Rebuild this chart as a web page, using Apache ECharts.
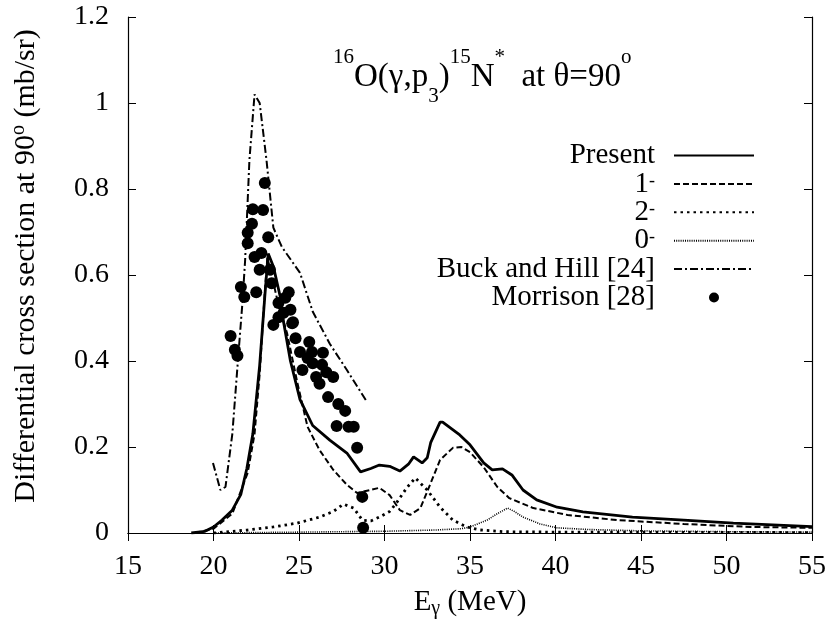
<!DOCTYPE html>
<html>
<head>
<meta charset="utf-8">
<script src="https://cdn.jsdelivr.net/npm/echarts@6/dist/echarts.min.js"></script>
<style>
  html, body { margin: 0; padding: 0; background: #fff; }
  #main { width: 825px; height: 629px; }
</style>
</head>
<body>
<div id="main"></div>
<script>
// Present (total)
var presentX = [18.7, 19.5, 20.0, 20.5, 21.1, 21.6, 21.95, 22.3, 22.7, 23.0, 23.2, 23.5, 23.9, 24.1, 24.5, 25.06, 25.8, 26.8, 27.8, 28.6, 29.2, 29.7, 30.3, 30.9, 31.4, 31.7, 32.2, 32.5, 32.7, 33.25, 33.4, 34.4, 35.0, 35.8, 36.3, 36.9, 37.45, 38.1, 38.9, 40.1, 41.6, 44.5, 47.5, 50.4, 55];
var presentY = [0, 0.004, 0.014, 0.03, 0.053, 0.09, 0.15, 0.23, 0.39, 0.55, 0.65, 0.62, 0.55, 0.49, 0.40, 0.31, 0.25, 0.216, 0.186, 0.142, 0.15, 0.158, 0.155, 0.144, 0.16, 0.177, 0.163, 0.175, 0.21, 0.258, 0.258, 0.228, 0.205, 0.163, 0.147, 0.149, 0.135, 0.1, 0.077, 0.06, 0.049, 0.037, 0.03, 0.023, 0.015];

// 1- component
var oneX = [18.9, 20.0, 21.1, 22.0, 22.4, 22.7, 23.0, 23.15, 23.4, 23.8, 24.3, 24.9, 25.5, 26.2, 27.0, 27.8, 28.4, 29.15, 29.7, 30.3, 30.9, 31.5, 32.1, 32.7, 33.25, 34.0, 34.5, 35.0, 35.8, 36.6, 37.3, 38.7, 40.7, 43.6, 47.5, 51.4, 55];
var oneY = [0, 0.01, 0.045, 0.14, 0.23, 0.37, 0.56, 0.64, 0.6, 0.53, 0.465, 0.35, 0.247, 0.193, 0.147, 0.112, 0.093, 0.1, 0.105, 0.088, 0.053, 0.042, 0.058, 0.116, 0.17, 0.198, 0.2, 0.188, 0.153, 0.107, 0.081, 0.058, 0.042, 0.03, 0.021, 0.014, 0.012];

// 2- component
var twoX = [20.0, 22.0, 23.5, 24.9, 26.2, 27.0, 27.6, 28.2, 28.7, 29.2, 29.7, 30.3, 30.7, 31.3, 31.8, 32.5, 33.25, 34.0, 34.8, 35.6, 37.0, 40.0, 55];
var twoY = [0, 0.007, 0.014, 0.023, 0.037, 0.05, 0.067, 0.058, 0.03, 0.028, 0.037, 0.05, 0.07, 0.105, 0.128, 0.1, 0.06, 0.03, 0.014, 0.007, 0.003, 0.002, 0.001];

// 0- component
var zeroX = [20.0, 25.0, 30.0, 33.0, 34.5, 35.0, 36.0, 36.6, 37.2, 37.6, 38.1, 39.1, 40.1, 42.0, 45.0, 50.0, 55];
var zeroY = [0, 0.002, 0.004, 0.007, 0.01, 0.014, 0.03, 0.045, 0.058, 0.05, 0.037, 0.021, 0.012, 0.008, 0.005, 0.003, 0.002];

// Buck and Hill [24]
var buckX = [19.97, 20.4, 20.7, 21.1, 21.4, 21.7, 21.85, 22.1, 22.4, 22.7, 23.1, 23.5, 24.0, 25.06, 25.8, 26.8, 27.8, 28.97];
var buckY = [0.163, 0.1, 0.107, 0.23, 0.386, 0.54, 0.635, 0.867, 1.02, 1.0, 0.867, 0.71, 0.665, 0.605, 0.515, 0.44, 0.379, 0.305];

// Morrison [28]
var morrisonX = [23.0, 22.3, 22.9, 22.25, 22.0, 22.0, 23.2, 22.4, 22.8, 22.7, 23.3, 23.4, 21.6, 21.8, 22.5, 24.4, 24.2, 23.8, 24.5, 23.8, 24.6, 23.5, 21.0, 21.25, 21.4, 24.8, 24.1, 24.65, 25.6, 25.06, 25.76, 26.4, 25.5, 25.8, 26.35, 25.2, 26.6, 27.0, 26.0, 26.2, 26.7, 27.3, 27.7, 27.2, 27.9, 28.2, 28.4, 28.7, 28.75];
var morrisonY = [0.814, 0.753, 0.751, 0.719, 0.698, 0.674, 0.688, 0.642, 0.651, 0.612, 0.612, 0.581, 0.572, 0.549, 0.56, 0.56, 0.547, 0.535, 0.519, 0.502, 0.488, 0.484, 0.458, 0.426, 0.412, 0.453, 0.512, 0.49, 0.444, 0.421, 0.421, 0.419, 0.407, 0.395, 0.391, 0.379, 0.374, 0.363, 0.363, 0.347, 0.316, 0.30, 0.284, 0.249, 0.247, 0.247, 0.198, 0.084, 0.012];

var xTicks = [15, 20, 25, 30, 35, 40, 45, 50, 55];
var yTicks = [0, 0.2, 0.4, 0.6, 0.8, 1, 1.2];

function pairs(xs, ys) {
  return xs.map(function (x, i) { return [x, ys[i]]; });
}

var serif = 'Liberation Serif';
var chart = echarts.init(document.getElementById('main'));

function lineSeries(name, xs, ys, type, width) {
  return {
    name: name,
    type: 'line',
    data: pairs(xs, ys),
    showSymbol: false,
    symbol: 'none',
    smooth: false,
    lineStyle: { color: '#000', width: width, type: type },
    itemStyle: { color: '#000' },
    z: 3
  };
}

// hide the circle that line series put in the middle of their legend icon
var noDot = { color: 'rgba(0,0,0,0)', borderWidth: 0, opacity: 0 };

var option = {
  animation: false,
  backgroundColor: '#fff',
  textStyle: { fontFamily: serif, color: '#000' },
  title: {
    text: '{sup|16}{b|O(γ,p}{sub|3}{b|)}{sup|15}{b|N}{sup|*}{b|  at θ=90}{sup|o}',
    left: 333,
    top: 47,
    padding: 0,
    textStyle: {
      fontWeight: 'normal',
      rich: {
        b: { fontFamily: serif, fontSize: 33, fontWeight: 'normal', color: '#000', lineHeight: 60 },
        sup: { fontFamily: serif, fontSize: 21, fontWeight: 'normal', color: '#000', verticalAlign: 'top', lineHeight: 21 },
        sub: { fontFamily: serif, fontSize: 21, fontWeight: 'normal', color: '#000', verticalAlign: 'bottom', lineHeight: 26 }
      }
    }
  },
  legend: {
    orient: 'vertical',
    right: 70,
    top: 141,
    align: 'right',
    itemWidth: 80,
    itemHeight: 10,
    itemGap: -0.6,
    padding: 0,
    symbolKeepAspect: true,
    data: [
      { name: 'Present', itemStyle: noDot },
      { name: '1-', itemStyle: noDot },
      { name: '2-', itemStyle: noDot },
      { name: '0-', itemStyle: noDot },
      { name: 'Buck and Hill [24]', itemStyle: noDot },
      { name: 'Morrison [28]' }
    ],
    formatter: function (name) {
      if (/^\d-$/.test(name)) return '{b|' + name[0] + '}{s|-}';
      return '{b|' + name + '}';
    },
    textStyle: {
      padding: [0, 14, 0, 0],
      rich: {
        b: { fontFamily: serif, fontSize: 29, color: '#000', lineHeight: 24 },
        s: { fontFamily: serif, fontSize: 18, color: '#000', verticalAlign: 'top', lineHeight: 12 }
      }
    }
  },
  grid: { left: 128, right: 13, top: 17, bottom: 96, containLabel: false, outerBoundsMode: 'none' },
  xAxis: [{
    type: 'value',
    min: 15,
    max: 55,
    interval: 5,
    name: '{b|E}{sub|γ}{b| (MeV)}',
    nameLocation: 'middle',
    nameGap: 52,
    nameTextStyle: {
      rich: {
        b: { fontFamily: serif, fontSize: 29, color: '#000', lineHeight: 34 },
        sub: { fontFamily: serif, fontSize: 20, color: '#000', verticalAlign: 'bottom', lineHeight: 16 }
      }
    },
    axisLine: { onZero: false, lineStyle: { color: '#000', width: 1.2 } },
    axisTick: { inside: true, length: 8, lineStyle: { color: '#000' } },
    axisLabel: { fontFamily: serif, fontSize: 28, color: '#000', margin: 20,
      formatter: function (v) { return xTicks.indexOf(v) >= 0 ? String(v) : ''; } },
    splitLine: { show: false }
  }, {
    type: 'value',
    position: 'top',
    min: 15,
    max: 55,
    interval: 5,
    axisLine: { show: true, lineStyle: { color: '#000', width: 1.2 } },
    axisTick: { inside: true, length: 8, lineStyle: { color: '#000' } },
    axisLabel: { show: false },
    splitLine: { show: false }
  }],
  yAxis: [{
    type: 'value',
    min: 0,
    max: 1.2,
    interval: 0.2,
    name: '{b|Differential cross section at 90}{sup|o}{b| (mb/sr)}',
    nameLocation: 'middle',
    nameRotate: 90,
    nameGap: 85,
    nameTextStyle: {
      padding: [0, 0, 0, 18],
      rich: {
        b: { fontFamily: serif, fontSize: 30, color: '#000', lineHeight: 34 },
        sup: { fontFamily: serif, fontSize: 20, color: '#000', verticalAlign: 'top', lineHeight: 16 }
      }
    },
    axisLine: { show: true, onZero: false, lineStyle: { color: '#000', width: 1.2 } },
    axisTick: { show: true, inside: true, length: 8, lineStyle: { color: '#000' } },
    axisLabel: { fontFamily: serif, fontSize: 28, color: '#000', margin: 19,
      formatter: function (v) {
        var r = Math.round(v * 10) / 10;
        return yTicks.indexOf(r) >= 0 ? String(r) : '';
      } },
    splitLine: { show: false }
  }, {
    type: 'value',
    position: 'right',
    min: 0,
    max: 1.2,
    interval: 0.2,
    axisLine: { show: true, lineStyle: { color: '#000', width: 1.2 } },
    axisTick: { show: true, inside: true, length: 8, lineStyle: { color: '#000' } },
    axisLabel: { show: false },
    splitLine: { show: false }
  }],
  series: [
    lineSeries('Present', presentX, presentY, 'solid', 2.8),
    lineSeries('1-', oneX, oneY, [6, 3], 2),
    lineSeries('2-', twoX, twoY, [2.5, 4], 2.8),
    lineSeries('0-', zeroX, zeroY, [1, 1.2], 1.6),
    lineSeries('Buck and Hill [24]', buckX, buckY, [8, 3, 2, 3], 2),
    {
      name: 'Morrison [28]',
      type: 'scatter',
      data: pairs(morrisonX, morrisonY),
      symbol: 'circle',
      symbolSize: 12,
      itemStyle: { color: '#000', opacity: 1 },
      z: 4
    }
  ]
};

chart.setOption(option);
</script>
</body>
</html>
